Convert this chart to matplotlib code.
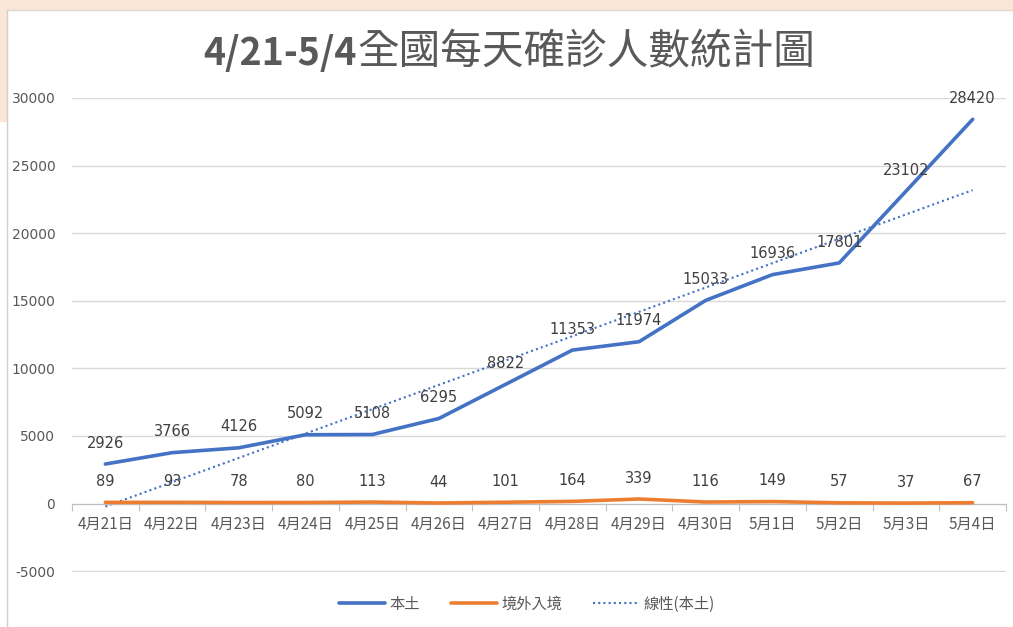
import numpy as np
import matplotlib
matplotlib.use('Agg')
import matplotlib.pyplot as plt
from matplotlib.lines import Line2D
from matplotlib.patches import Rectangle

plt.rcParams['font.family'] = ['Noto Sans CJK TC', 'DejaVu Sans']

dates = ['4月21日', '4月22日', '4月23日', '4月24日', '4月25日', '4月26日', '4月27日',
         '4月28日', '4月29日', '4月30日', '5月1日', '5月2日', '5月3日', '5月4日']
local_cases = [2926, 3766, 4126, 5092, 5108, 6295, 8822, 11353, 11974, 15033,
               16936, 17801, 23102, 28420]
imported_cases = [89, 93, 78, 80, 113, 44, 101, 164, 339, 116, 149, 57, 37, 67]
y_ticks = [-5000, 0, 5000, 10000, 15000, 20000, 25000, 30000]

blue = '#4472C4'
orange = '#ED7D31'
text_gray = '#595959'
grid_gray = '#D9D9D9'

fig = plt.figure(figsize=(10.13, 6.27), dpi=100)

# peach slide background peeking out at the top-left
fig.patches.append(Rectangle((0, 1 - 10 / 627), 1, 10 / 627, transform=fig.transFigure,
                             facecolor='#FBE5D6', edgecolor='none', zorder=0))
fig.patches.append(Rectangle((0, 1 - 122 / 627), 7 / 1013, 122 / 627, transform=fig.transFigure,
                             facecolor='#FBE5D6', edgecolor='none', zorder=0))
fig.add_artist(Line2D([7 / 1013, 7 / 1013], [0, 1 - 10 / 627], transform=fig.transFigure,
                      color='#D0D0D0', lw=1))
fig.add_artist(Line2D([7 / 1013, 1], [1 - 10 / 627, 1 - 10 / 627], transform=fig.transFigure,
                      color='#E0D6CF', lw=1))

ax = fig.add_axes([72 / 1013, 1 - 572 / 627, (1006 - 72) / 1013, (572 - 98) / 627])

x = np.arange(len(dates))
ax.set_xlim(-0.5, len(dates) - 0.5)
ax.set_ylim(-5060, 30000)

ax.plot(x, local_cases, color=blue, lw=2.6, solid_capstyle='round', zorder=3, label='本土')
ax.plot(x, imported_cases, color=orange, lw=2.6, solid_capstyle='round', zorder=3, label='境外入境')

slope, intercept = np.polyfit(x, local_cases, 1)
ax.plot(x, slope * x + intercept, color=blue, lw=1.5, ls=(0, (1, 1.5)), zorder=2,
        label='線性(本土)')

for xi, v in zip(x, local_cases):
    ax.annotate(str(v), (xi, v), xytext=(0, 15), textcoords='offset points',
                ha='center', va='center', fontsize=10.5, color='#404040',
                family=['DejaVu Sans'], annotation_clip=False)
for xi, v in zip(x, imported_cases):
    ax.annotate(str(v), (xi, v), xytext=(0, 15), textcoords='offset points',
                ha='center', va='center', fontsize=10.5, color='#404040',
                family=['DejaVu Sans'], annotation_clip=False)

ax.set_yticks(y_ticks)
ax.set_yticklabels([str(t) for t in y_ticks], fontsize=10, color=text_gray,
                   family=['DejaVu Sans'])
ax.tick_params(axis='y', length=0, pad=12)
ax.grid(axis='y', color=grid_gray, lw=1)
ax.set_axisbelow(True)

for side in ['top', 'right', 'left']:
    ax.spines[side].set_visible(False)
ax.spines['bottom'].set_position(('data', 0))
ax.spines['bottom'].set_color('#BFBFBF')
ax.set_xticks(np.arange(len(dates) + 1) - 0.5)
ax.set_xticklabels([])
ax.set_xticks(x, minor=True)
ax.set_xticklabels(dates, minor=True, fontsize=11, color=text_gray)
ax.tick_params(axis='x', which='major', length=5, color='#BFBFBF', direction='out')
ax.tick_params(axis='x', which='minor', length=0, pad=9)

fig.text(357 / 1013, 1 - 53 / 627, '4/21-5/4', ha='right', va='center', fontsize=27,
         fontweight='bold', color=text_gray)
fig.text(357 / 1013, 1 - 53 / 627, '全國每天確診人數統計圖', ha='left', va='center', fontsize=30,
         color=text_gray)

leg = fig.legend(loc='center', bbox_to_anchor=(0.52, 1 - 604 / 627), ncol=3, frameon=False,
                 fontsize=11, handlelength=3.0, columnspacing=2.0, handletextpad=0.3)
for t in leg.get_texts():
    t.set_color(text_gray)

fig.savefig('out.png', dpi=100)
